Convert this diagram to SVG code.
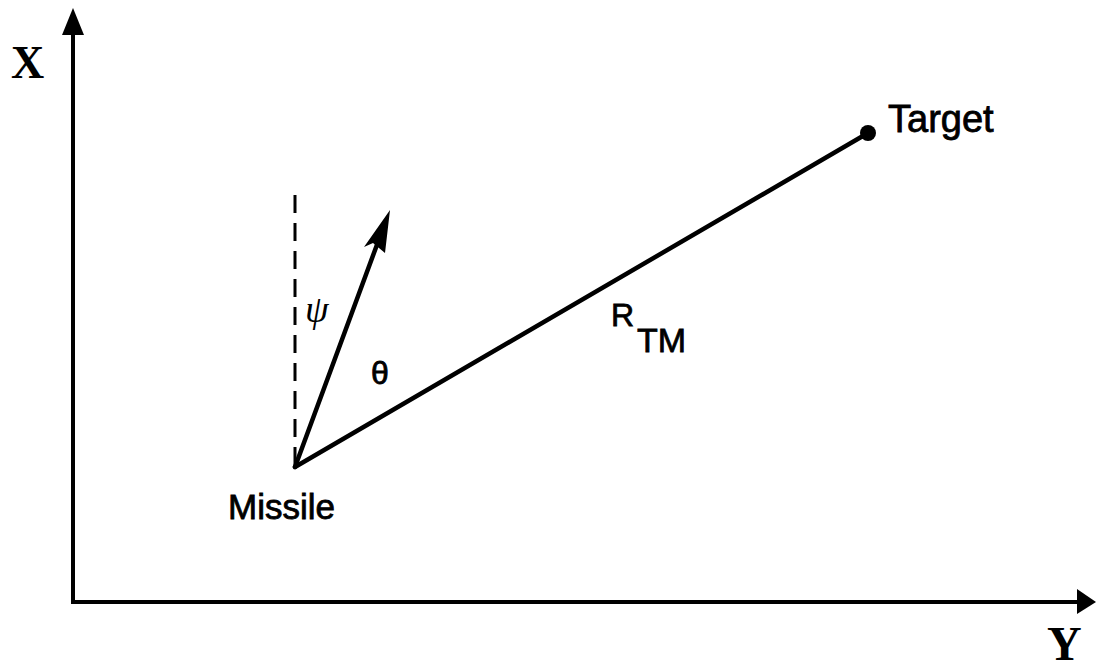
<svg xmlns="http://www.w3.org/2000/svg" width="1096" height="669" viewBox="0 0 1096 669">
<style>
.ax{stroke:#000;stroke-width:4;fill:none}
.ln{stroke:#000;stroke-width:4.5;fill:none;stroke-linecap:round}
.sans{font-family:"Liberation Sans",Arial,sans-serif;fill:#000;stroke:#000;stroke-width:0.8}
.serif{font-family:"Liberation Serif","Times New Roman",serif;fill:#000}
</style>
<rect width="1096" height="669" fill="#fff"/>
<g id="connectors">
<path class="ax" d="M73,604 V30 M71,602 H1080"/>
<polygon points="73,8 62,35 84,35" fill="#000"/>
<polygon points="1096,602 1077,589 1077,614" fill="#000"/>
<line x1="295" y1="195" x2="295" y2="465" stroke="#000" stroke-width="3" stroke-dasharray="18,10"/>
<line class="ln" x1="295" y1="467" x2="378" y2="242"/>
<polygon points="390,210 364,247 373,243 385,253" fill="#000"/>
<line class="ln" x1="295" y1="467" x2="868" y2="133"/>
</g>
<g id="x-label"><text class="serif" x="11" y="78" font-size="46" font-weight="bold">X</text></g>
<g id="y-label"><text class="serif" x="1047" y="660" font-size="48" font-weight="bold">Y</text></g>
<g id="missile"><text class="sans" x="228" y="519" font-size="35">Missile</text></g>
<g id="target">
<circle cx="868" cy="133" r="8" fill="#000"/>
<text class="sans" x="888" y="132" font-size="38">Target</text>
</g>
<g id="psi"><text class="serif" x="305" y="322" font-size="38" font-style="italic">ψ</text></g>
<g id="theta"><text class="sans" x="371" y="384" font-size="32">θ</text></g>
<g id="rtm"><text class="sans" x="611" y="326" font-size="32">R</text><text class="sans" x="637" y="352" font-size="34">TM</text></g>
</svg>
